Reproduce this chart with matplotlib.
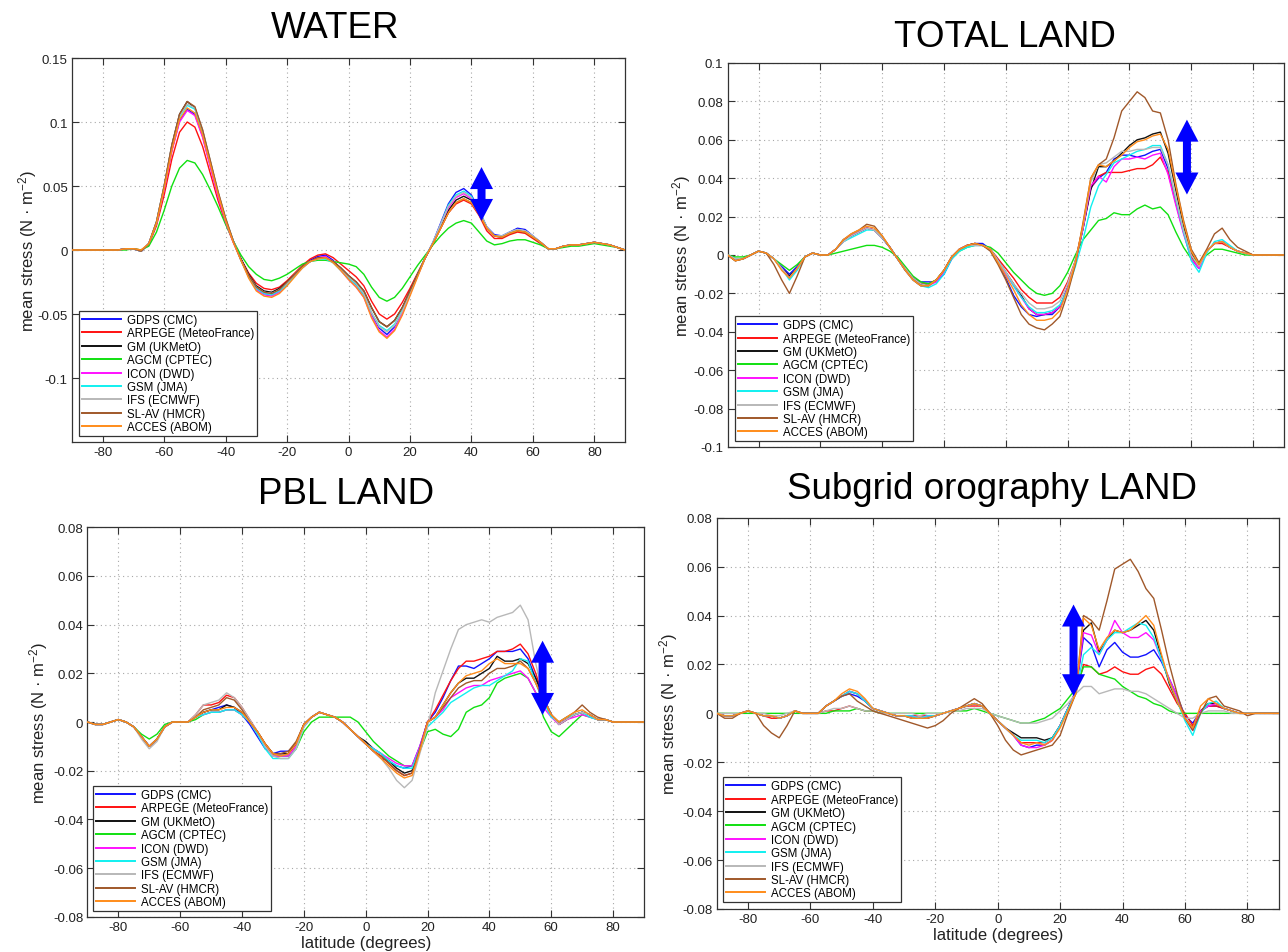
import numpy as np
import matplotlib
matplotlib.use("Agg")
import matplotlib.pyplot as plt
from matplotlib.patches import Polygon
from matplotlib.transforms import IdentityTransform
from matplotlib.ticker import FuncFormatter

plt.rcParams['font.family'] = ['Liberation Sans', 'DejaVu Sans']
plt.rcParams['axes.unicode_minus'] = False
plt.rcParams['mathtext.fontset'] = 'custom'
plt.rcParams['mathtext.rm'] = 'Liberation Sans'
plt.rcParams['mathtext.it'] = 'Liberation Sans:italic'

# ---------------- data ----------------
lat = np.arange(-90, 90.01, 2.5)   # 73 latitudes

models = ["GDPS (CMC)", "ARPEGE (MeteoFrance)", "GM (UKMetO)", "AGCM (CPTEC)",
          "ICON (DWD)", "GSM (JMA)", "IFS (ECMWF)", "SL-AV (HMCR)", "ACCES (ABOM)"]
colors = ["#1010ff", "#ff1010", "#111111", "#10e010", "#ff10ff",
          "#10f0f0", "#b8b8b8", "#a0582a", "#ff8c1a"]

# WATER
water_gdps = [0,0,0,0,0,0,0, 0.001,0.001,-0.001,0.005,0.021,0.048,0.078,0.101,0.110,0.106,0.089,0.066,0.043,0.023,0.007,
              -0.007,-0.020,-0.030,-0.034,-0.035,-0.032,-0.026,-0.019,-0.013,-0.008,-0.005,-0.004,
              -0.008,-0.015,-0.022,-0.027,-0.035,-0.050,-0.061,-0.066,-0.060,-0.048,-0.034,-0.020,-0.006,
              0.006,0.021,0.036,0.045,0.048,0.043,0.031,0.018,0.012,0.011,0.014,0.017,0.016,0.011,0.006,
              0.001,0.001,0.003,0.004,0.004,0.005,0.006,0.005,0.004,0.002,0.000]
water_arpege = [0,0,0,0,0,0,0, 0.001,0.001,0.000,0.004,0.019,0.043,0.071,0.092,0.100,0.096,0.081,0.060,0.039,0.021,0.006,
                -0.007,-0.018,-0.026,-0.030,-0.031,-0.029,-0.024,-0.018,-0.012,-0.007,-0.004,-0.003,
                -0.006,-0.011,-0.016,-0.021,-0.028,-0.040,-0.050,-0.054,-0.050,-0.041,-0.030,-0.018,-0.006,
                0.005,0.017,0.029,0.036,0.039,0.036,0.027,0.015,0.009,0.009,0.012,0.014,0.013,0.009,0.005,
                0.001,0.001,0.003,0.004,0.004,0.005,0.006,0.005,0.004,0.002,0.000]
water_gm = [0,0,0,0,0,0,0, 0.001,0.001,-0.001,0.005,0.022,0.050,0.082,0.106,0.116,0.111,0.093,0.069,0.045,0.024,0.007,
            -0.007,-0.019,-0.028,-0.032,-0.033,-0.030,-0.025,-0.019,-0.013,-0.009,-0.006,-0.006,
            -0.009,-0.014,-0.020,-0.025,-0.032,-0.045,-0.056,-0.060,-0.055,-0.045,-0.032,-0.019,-0.006,
            0.005,0.018,0.031,0.039,0.042,0.039,0.029,0.017,0.011,0.010,0.013,0.015,0.014,0.010,0.006,
            0.001,0.001,0.003,0.004,0.004,0.005,0.006,0.005,0.004,0.002,0.000]
water_agcm = [0,0,0,0,0,0,0, 0.000,0.001,0.000,0.003,0.014,0.031,0.050,0.064,0.070,0.068,0.059,0.047,0.034,0.020,0.007,
              -0.004,-0.013,-0.019,-0.023,-0.024,-0.022,-0.019,-0.015,-0.011,-0.009,-0.008,-0.008,
              -0.009,-0.010,-0.011,-0.013,-0.019,-0.029,-0.037,-0.040,-0.037,-0.030,-0.021,-0.012,-0.004,
              0.004,0.011,0.017,0.021,0.023,0.021,0.014,0.007,0.004,0.005,0.007,0.008,0.008,0.006,0.004,
              0.001,0.001,0.002,0.003,0.003,0.004,0.005,0.004,0.003,0.002,0.000]
water_icon = [0,0,0,0,0,0,0, 0.001,0.001,-0.001,0.005,0.021,0.047,0.077,0.100,0.109,0.105,0.088,0.065,0.042,0.022,0.006,
              -0.008,-0.021,-0.031,-0.035,-0.036,-0.033,-0.027,-0.020,-0.014,-0.009,-0.006,-0.005,
              -0.009,-0.016,-0.023,-0.029,-0.037,-0.052,-0.063,-0.068,-0.062,-0.050,-0.035,-0.020,-0.006,
              0.006,0.020,0.033,0.041,0.044,0.040,0.030,0.018,0.011,0.011,0.014,0.016,0.015,0.011,0.006,
              0.001,0.001,0.003,0.004,0.004,0.005,0.006,0.005,0.004,0.002,0.000]
water_gsm = [0,0,0,0,0,0,0, 0.001,0.001,-0.001,0.005,0.021,0.049,0.080,0.104,0.113,0.110,0.093,0.069,0.045,0.024,0.007,
             -0.008,-0.021,-0.030,-0.034,-0.035,-0.032,-0.027,-0.020,-0.014,-0.009,-0.007,-0.007,
             -0.010,-0.016,-0.022,-0.027,-0.035,-0.049,-0.059,-0.063,-0.058,-0.047,-0.033,-0.019,-0.006,
             0.006,0.020,0.035,0.043,0.046,0.042,0.031,0.018,0.011,0.011,0.014,0.016,0.015,0.011,0.006,
             0.001,0.001,0.003,0.004,0.004,0.005,0.006,0.005,0.004,0.002,0.000]
water_ifs = [0,0,0,0,0,0,0, 0.001,0.001,-0.001,0.005,0.022,0.050,0.081,0.105,0.114,0.111,0.094,0.070,0.046,0.025,0.007,
             -0.008,-0.020,-0.029,-0.033,-0.034,-0.031,-0.026,-0.019,-0.013,-0.009,-0.007,-0.006,
             -0.009,-0.015,-0.021,-0.026,-0.034,-0.049,-0.060,-0.064,-0.059,-0.048,-0.034,-0.020,-0.006,
             0.006,0.020,0.034,0.042,0.045,0.041,0.030,0.018,0.011,0.011,0.014,0.016,0.015,0.011,0.006,
             0.001,0.001,0.003,0.004,0.004,0.005,0.006,0.005,0.004,0.002,0.000]
water_slav = [0,0,0,0,0,0,0, 0.001,0.001,-0.001,0.005,0.022,0.050,0.082,0.106,0.116,0.112,0.094,0.070,0.046,0.025,0.007,
              -0.008,-0.020,-0.029,-0.033,-0.034,-0.031,-0.025,-0.019,-0.013,-0.009,-0.006,-0.006,
              -0.009,-0.014,-0.020,-0.025,-0.032,-0.045,-0.056,-0.060,-0.055,-0.045,-0.032,-0.019,-0.006,
              0.005,0.017,0.029,0.037,0.040,0.037,0.028,0.017,0.011,0.010,0.013,0.015,0.014,0.010,0.006,
              0.001,0.001,0.003,0.004,0.004,0.005,0.006,0.005,0.004,0.002,0.000]
water_acces = [0,0,0,0,0,0,0, 0.001,0.001,0.000,0.005,0.021,0.048,0.078,0.102,0.111,0.107,0.090,0.067,0.044,0.023,0.006,
               -0.008,-0.022,-0.032,-0.036,-0.037,-0.034,-0.028,-0.021,-0.014,-0.009,-0.007,-0.006,
               -0.010,-0.016,-0.023,-0.029,-0.037,-0.053,-0.064,-0.069,-0.063,-0.051,-0.036,-0.021,-0.006,
               0.005,0.017,0.029,0.037,0.040,0.037,0.028,0.017,0.011,0.010,0.013,0.015,0.014,0.010,0.006,
               0.001,0.001,0.003,0.004,0.004,0.005,0.006,0.005,0.004,0.002,0.000]

# TOTAL LAND
total_gdps = [0.000,-0.002,-0.002,0.000,0.002,0.001,-0.002,-0.006,-0.010,-0.006,
              -0.001,0.001,0.000,0.000,0.003,0.007,0.010,0.012,0.014,0.013,
              0.009,0.004,-0.002,-0.008,-0.012,-0.014,-0.014,-0.014,-0.010,-0.002,
              0.003,0.005,0.006,0.006,0.003,-0.004,-0.012,-0.021,-0.027,-0.031,
              -0.032,-0.031,-0.031,-0.027,-0.017,-0.003,0.014,0.035,0.040,0.043,
              0.050,0.052,0.052,0.051,0.052,0.054,0.055,0.045,0.028,0.012,
              -0.002,-0.007,0.002,0.006,0.007,0.004,0.002,0.001,0.000,0.000,
              0.000,0.000,0.000]
total_arpege = [0.000,-0.002,-0.002,0.000,0.002,0.001,-0.002,-0.007,-0.012,-0.007,
                -0.001,0.001,0.000,0.000,0.003,0.007,0.010,0.012,0.014,0.013,
                0.009,0.004,-0.002,-0.007,-0.012,-0.015,-0.015,-0.013,-0.008,-0.001,
                0.003,0.005,0.006,0.005,0.003,-0.002,-0.007,-0.012,-0.018,-0.022,
                -0.025,-0.025,-0.025,-0.022,-0.014,-0.003,0.015,0.035,0.041,0.043,
                0.043,0.043,0.044,0.045,0.045,0.047,0.051,0.043,0.027,0.012,
                -0.001,-0.006,0.002,0.006,0.006,0.004,0.002,0.001,0.000,0.000,
                0.000,0.000,0.000]
total_gm = [0.000,-0.003,-0.002,0.000,0.002,0.001,-0.002,-0.007,-0.011,-0.007,
            -0.001,0.001,0.000,0.000,0.003,0.008,0.010,0.012,0.014,0.013,
            0.009,0.004,-0.002,-0.007,-0.012,-0.015,-0.016,-0.013,-0.008,-0.001,
            0.003,0.005,0.006,0.005,0.003,-0.003,-0.009,-0.015,-0.021,-0.028,
            -0.031,-0.031,-0.030,-0.027,-0.017,-0.004,0.014,0.034,0.046,0.046,
            0.049,0.053,0.057,0.060,0.061,0.063,0.064,0.053,0.034,0.015,
            0.001,-0.005,0.002,0.006,0.007,0.004,0.002,0.001,0.000,0.000,
            0.000,0.000,0.000]
total_agcm = [0.000,-0.001,-0.001,0.000,0.002,0.001,-0.002,-0.005,-0.008,-0.005,
              -0.001,0.001,0.000,0.000,0.001,0.002,0.003,0.004,0.005,0.005,
              0.004,0.002,-0.001,-0.006,-0.011,-0.014,-0.015,-0.013,-0.008,-0.002,
              0.002,0.004,0.005,0.005,0.004,0.001,-0.004,-0.009,-0.013,-0.017,
              -0.020,-0.021,-0.020,-0.016,-0.009,0.000,0.008,0.013,0.018,0.019,
              0.022,0.021,0.021,0.024,0.026,0.024,0.025,0.021,0.012,0.004,
              -0.002,-0.004,0.000,0.003,0.003,0.002,0.001,0.000,0.000,0.000,
              0.000,0.000,0.000]
total_icon = [0.000,-0.002,-0.002,0.000,0.002,0.001,-0.002,-0.007,-0.012,-0.007,
              -0.001,0.001,0.000,0.000,0.003,0.007,0.010,0.012,0.014,0.013,
              0.009,0.004,-0.002,-0.008,-0.013,-0.016,-0.016,-0.014,-0.009,-0.002,
              0.003,0.005,0.005,0.005,0.003,-0.003,-0.010,-0.016,-0.022,-0.028,
              -0.031,-0.031,-0.030,-0.027,-0.017,-0.004,0.014,0.036,0.041,0.038,
              0.046,0.050,0.050,0.051,0.050,0.052,0.053,0.042,0.026,0.011,
              -0.002,-0.007,0.002,0.006,0.007,0.004,0.002,0.001,0.000,0.000,
              0.000,0.000,0.000]
total_gsm = [0.000,-0.002,-0.002,0.000,0.002,0.001,-0.002,-0.007,-0.013,-0.008,
             -0.001,0.001,0.000,0.000,0.003,0.007,0.009,0.011,0.013,0.013,
             0.009,0.004,-0.002,-0.008,-0.013,-0.016,-0.017,-0.015,-0.010,-0.002,
             0.002,0.004,0.005,0.005,0.003,-0.003,-0.009,-0.016,-0.022,-0.027,
             -0.030,-0.030,-0.029,-0.026,-0.018,-0.006,0.008,0.025,0.036,0.042,
             0.048,0.050,0.052,0.054,0.055,0.057,0.057,0.047,0.029,0.012,
             -0.003,-0.009,0.001,0.007,0.008,0.005,0.002,0.001,0.000,0.000,
             0.000,0.000,0.000]
total_ifs = [0.000,-0.002,-0.002,0.000,0.002,0.001,-0.002,-0.007,-0.012,-0.007,
             -0.001,0.001,0.000,0.000,0.003,0.007,0.010,0.012,0.014,0.013,
             0.009,0.004,-0.002,-0.007,-0.012,-0.015,-0.016,-0.013,-0.008,-0.001,
             0.003,0.005,0.005,0.005,0.003,-0.003,-0.009,-0.015,-0.020,-0.025,
             -0.028,-0.028,-0.027,-0.024,-0.015,-0.003,0.015,0.038,0.047,0.048,
             0.051,0.054,0.054,0.055,0.055,0.056,0.056,0.047,0.030,0.013,
             0.000,-0.006,0.002,0.006,0.007,0.004,0.002,0.001,0.000,0.000,
             0.000,0.000,0.000]
total_slav = [0.000,-0.003,-0.002,0.000,0.002,0.001,-0.005,-0.013,-0.020,-0.011,
              -0.001,0.001,0.000,0.000,0.003,0.008,0.011,0.013,0.016,0.015,
              0.010,0.004,-0.002,-0.008,-0.013,-0.016,-0.016,-0.013,-0.008,-0.001,
              0.003,0.005,0.006,0.005,0.002,-0.005,-0.013,-0.022,-0.031,-0.036,
              -0.038,-0.039,-0.036,-0.032,-0.020,-0.005,0.017,0.040,0.047,0.050,
              0.061,0.075,0.080,0.085,0.082,0.075,0.074,0.060,0.037,0.018,
              0.003,-0.004,0.003,0.011,0.014,0.008,0.004,0.002,0.000,0.000,
              0.000,0.000,0.000]
total_acces = [0.000,-0.003,-0.002,0.000,0.002,0.001,-0.002,-0.008,-0.012,-0.007,
               -0.001,0.001,0.000,0.000,0.003,0.008,0.011,0.013,0.015,0.014,
               0.010,0.004,-0.002,-0.008,-0.013,-0.016,-0.016,-0.013,-0.008,-0.001,
               0.003,0.005,0.006,0.005,0.003,-0.004,-0.011,-0.018,-0.026,-0.031,
               -0.034,-0.034,-0.033,-0.029,-0.018,-0.004,0.016,0.040,0.047,0.046,
               0.049,0.052,0.056,0.059,0.060,0.062,0.063,0.055,0.036,0.017,
               0.002,-0.005,0.002,0.006,0.007,0.004,0.002,0.001,0.000,0.000,
               0.000,0.000,0.000]

# PBL LAND
pbl_gdps = [0.000,-0.001,-0.001,0.000,0.001,0.000,-0.002,-0.006,-0.010,-0.007,
            -0.002,0.000,0.000,0.000,0.002,0.004,0.005,0.006,0.007,0.006,
            0.003,-0.001,-0.006,-0.011,-0.013,-0.012,-0.012,-0.009,-0.001,0.002,
            0.004,0.003,0.002,0.000,-0.003,-0.006,-0.009,-0.012,-0.015,-0.016,
            -0.018,-0.019,-0.018,-0.010,0.000,0.004,0.010,0.017,0.023,0.023,
            0.022,0.024,0.026,0.029,0.029,0.029,0.030,0.026,0.018,0.010,
            0.003,-0.001,0.001,0.003,0.004,0.003,0.001,0.001,0.000,0.000,
            0.000,0.000,0.000]
pbl_arpege = [0.000,-0.001,-0.001,0.000,0.001,0.000,-0.002,-0.006,-0.010,-0.007,
              -0.002,0.000,0.000,0.000,0.003,0.007,0.007,0.008,0.011,0.010,
              0.006,0.001,-0.004,-0.009,-0.013,-0.013,-0.013,-0.009,-0.001,0.002,
              0.004,0.003,0.002,0.000,-0.003,-0.006,-0.009,-0.012,-0.014,-0.017,
              -0.020,-0.022,-0.021,-0.011,0.000,0.005,0.011,0.017,0.022,0.025,
              0.025,0.026,0.027,0.029,0.029,0.030,0.032,0.028,0.020,0.010,
              0.003,-0.001,0.001,0.003,0.004,0.003,0.001,0.001,0.000,0.000,
              0.000,0.000,0.000]
pbl_gm = [0.000,-0.001,-0.001,0.000,0.001,0.000,-0.002,-0.006,-0.010,-0.007,
          -0.002,0.000,0.000,0.000,0.002,0.004,0.005,0.005,0.007,0.006,
          0.004,0.000,-0.004,-0.009,-0.013,-0.013,-0.013,-0.009,-0.001,0.002,
          0.004,0.003,0.002,0.000,-0.003,-0.006,-0.008,-0.011,-0.013,-0.016,
          -0.019,-0.021,-0.020,-0.011,0.000,0.002,0.007,0.012,0.016,0.018,
          0.018,0.020,0.022,0.027,0.025,0.025,0.026,0.024,0.018,0.010,
          0.003,-0.001,0.001,0.003,0.004,0.003,0.001,0.001,0.000,0.000,
          0.000,0.000,0.000]
pbl_agcm = [0.000,-0.001,-0.001,0.000,0.001,0.000,-0.002,-0.005,-0.007,-0.005,
            -0.001,0.000,0.000,0.000,0.001,0.003,0.004,0.004,0.005,0.005,
            0.003,0.000,-0.005,-0.010,-0.014,-0.014,-0.014,-0.011,-0.004,0.000,
            0.002,0.002,0.002,0.002,0.002,0.000,-0.004,-0.008,-0.011,-0.014,
            -0.016,-0.018,-0.018,-0.012,-0.004,-0.003,-0.005,-0.006,-0.003,0.004,
            0.006,0.007,0.010,0.016,0.018,0.019,0.020,0.018,0.012,0.002,
            -0.004,-0.006,-0.003,0.000,0.003,0.002,0.001,0.001,0.000,0.000,
            0.000,0.000,0.000]
pbl_icon = [0.000,-0.001,-0.001,0.000,0.001,0.000,-0.002,-0.006,-0.010,-0.007,
            -0.002,0.000,0.000,0.000,0.002,0.003,0.004,0.004,0.005,0.005,
            0.003,0.000,-0.005,-0.010,-0.014,-0.014,-0.014,-0.010,-0.002,0.002,
            0.004,0.003,0.002,0.000,-0.003,-0.006,-0.009,-0.011,-0.013,-0.015,
            -0.017,-0.018,-0.018,-0.010,0.000,0.002,0.005,0.010,0.012,0.014,
            0.015,0.015,0.017,0.018,0.019,0.020,0.021,0.018,0.012,0.006,
            0.002,-0.001,0.001,0.002,0.003,0.002,0.001,0.001,0.000,0.000,
            0.000,0.000,0.000]
pbl_gsm = [0.000,-0.001,-0.001,0.000,0.001,0.000,-0.002,-0.006,-0.010,-0.007,
           -0.002,0.000,0.000,0.000,0.002,0.003,0.004,0.004,0.005,0.005,
           0.003,0.000,-0.005,-0.011,-0.015,-0.015,-0.015,-0.011,-0.002,0.002,
           0.004,0.003,0.002,0.000,-0.003,-0.006,-0.009,-0.011,-0.013,-0.016,
           -0.018,-0.019,-0.019,-0.011,-0.002,0.001,0.004,0.008,0.010,0.012,
           0.014,0.015,0.015,0.017,0.019,0.021,0.026,0.025,0.016,0.008,
           0.002,0.000,0.002,0.003,0.004,0.002,0.001,0.001,0.000,0.000,
           0.000,0.000,0.000]
pbl_ifs = [0.000,-0.001,-0.001,0.000,0.001,0.000,-0.002,-0.007,-0.011,-0.008,
           -0.002,0.000,0.000,0.000,0.003,0.007,0.008,0.009,0.012,0.010,
           0.006,0.001,-0.004,-0.010,-0.014,-0.015,-0.015,-0.011,-0.002,0.002,
           0.004,0.003,0.002,0.000,-0.003,-0.006,-0.009,-0.012,-0.015,-0.019,
           -0.024,-0.027,-0.024,-0.013,-0.002,0.012,0.021,0.030,0.038,0.040,
           0.041,0.042,0.041,0.043,0.044,0.045,0.048,0.042,0.024,0.010,
           0.003,-0.001,0.001,0.003,0.004,0.003,0.001,0.001,0.000,0.000,
           0.000,0.000,0.000]
pbl_slav = [0.000,-0.001,-0.001,0.000,0.001,0.000,-0.002,-0.006,-0.010,-0.007,
            -0.002,0.000,0.000,0.000,0.002,0.005,0.006,0.007,0.010,0.009,
            0.005,0.000,-0.004,-0.009,-0.013,-0.013,-0.012,-0.008,-0.001,0.002,
            0.004,0.003,0.002,0.000,-0.003,-0.006,-0.009,-0.012,-0.014,-0.017,
            -0.020,-0.022,-0.021,-0.011,0.000,0.002,0.006,0.010,0.014,0.016,
            0.017,0.017,0.020,0.022,0.022,0.023,0.025,0.022,0.016,0.009,
            0.003,0.000,0.002,0.004,0.007,0.004,0.002,0.001,0.000,0.000,
            0.000,0.000,0.000]
pbl_acces = [0.000,-0.001,-0.001,0.000,0.001,0.000,-0.002,-0.006,-0.010,-0.007,
             -0.002,0.000,0.000,0.000,0.002,0.004,0.005,0.005,0.006,0.006,
             0.004,0.000,-0.004,-0.009,-0.013,-0.014,-0.013,-0.009,-0.001,0.002,
             0.004,0.003,0.002,0.000,-0.003,-0.006,-0.009,-0.012,-0.015,-0.018,
             -0.021,-0.023,-0.022,-0.012,0.000,0.002,0.007,0.012,0.016,0.019,
             0.020,0.021,0.024,0.026,0.024,0.024,0.024,0.022,0.016,0.009,
             0.003,0.000,0.002,0.004,0.005,0.003,0.001,0.001,0.000,0.000,
             0.000,0.000,0.000]

# SUBGRID OROGRAPHY LAND
sso_gdps = [0.000,-0.001,-0.001,0.000,0.001,0.000,-0.001,-0.001,-0.002,-0.001,
            0.001,0.000,0.000,0.000,0.003,0.005,0.007,0.008,0.007,0.005,
            0.002,0.001,0.000,-0.001,-0.001,-0.001,-0.002,-0.001,-0.001,0.000,
            0.001,0.002,0.003,0.004,0.003,0.000,-0.003,-0.006,-0.009,-0.013,
            -0.014,-0.013,-0.013,-0.011,-0.005,0.002,0.009,0.031,0.028,0.019,
            0.026,0.029,0.025,0.023,0.023,0.024,0.026,0.021,0.014,0.007,
            -0.001,-0.004,0.001,0.003,0.003,0.002,0.001,0.000,0.000,0.000,
            0.000,0.000,0.000]
sso_arpege = [0.000,-0.001,-0.001,0.000,0.001,0.000,-0.001,-0.002,-0.002,-0.001,
              0.001,0.000,0.000,0.000,0.001,0.001,0.002,0.003,0.002,0.001,
              0.001,0.000,0.000,-0.001,-0.001,-0.001,-0.001,-0.001,-0.001,0.000,
              0.001,0.002,0.003,0.003,0.003,0.000,-0.003,-0.006,-0.009,-0.012,
              -0.012,-0.012,-0.012,-0.010,-0.005,0.002,0.008,0.020,0.019,0.016,
              0.017,0.019,0.017,0.016,0.016,0.018,0.019,0.016,0.010,0.004,
              0.000,-0.005,0.001,0.003,0.003,0.002,0.001,0.000,0.000,0.000,
              0.000,0.000,0.000]
sso_gm = [0.000,-0.001,-0.001,0.000,0.001,0.000,-0.001,-0.001,-0.002,-0.001,
          0.001,0.000,0.000,0.000,0.003,0.005,0.007,0.009,0.008,0.005,
          0.002,0.001,0.000,-0.001,-0.001,-0.002,-0.002,-0.002,-0.001,0.000,
          0.001,0.002,0.003,0.004,0.003,0.000,-0.003,-0.006,-0.008,-0.010,
          -0.010,-0.010,-0.011,-0.010,-0.005,0.002,0.009,0.034,0.037,0.025,
          0.030,0.034,0.033,0.034,0.036,0.038,0.034,0.023,0.012,0.005,
          -0.002,-0.006,0.001,0.004,0.004,0.002,0.001,0.000,0.000,0.000,
          0.000,0.000,0.000]
sso_agcm = [0.000,0.000,0.000,0.000,0.000,0.000,0.000,0.000,0.000,0.000,
            0.000,0.000,0.000,0.000,0.000,0.001,0.001,0.001,0.002,0.001,
            0.001,0.000,0.000,0.000,0.000,0.000,0.000,0.000,0.000,0.000,
            0.001,0.001,0.001,0.002,0.001,0.000,-0.001,-0.002,-0.003,-0.004,
            -0.004,-0.003,-0.002,0.000,0.002,0.006,0.010,0.019,0.019,0.016,
            0.015,0.014,0.011,0.009,0.007,0.006,0.004,0.003,0.001,0.000,
            0.000,0.000,0.000,0.000,0.000,0.000,0.000,0.000,0.000,0.000,
            0.000,0.000,0.000]
sso_icon = [0.000,-0.001,-0.001,0.000,0.001,0.000,-0.001,-0.001,-0.002,-0.001,
            0.001,0.000,0.000,0.000,0.003,0.005,0.007,0.009,0.008,0.005,
            0.002,0.001,0.000,-0.001,-0.001,-0.001,-0.002,-0.001,-0.001,0.000,
            0.001,0.002,0.003,0.004,0.003,0.000,-0.003,-0.006,-0.009,-0.013,
            -0.014,-0.014,-0.013,-0.011,-0.005,0.002,0.009,0.033,0.032,0.024,
            0.030,0.038,0.033,0.031,0.031,0.033,0.030,0.022,0.014,0.007,
            -0.002,-0.007,0.001,0.003,0.004,0.002,0.001,0.000,0.000,0.000,
            0.000,0.000,0.000]
sso_gsm = [0.000,-0.001,-0.001,0.000,0.001,0.000,-0.001,-0.001,-0.002,-0.001,
           0.001,0.000,0.000,0.000,0.003,0.005,0.007,0.009,0.008,0.005,
           0.002,0.001,0.000,-0.001,-0.001,-0.001,-0.002,-0.001,-0.001,0.000,
           0.001,0.002,0.003,0.004,0.003,0.000,-0.003,-0.006,-0.009,-0.011,
           -0.011,-0.011,-0.012,-0.010,-0.005,0.002,0.008,0.024,0.027,0.024,
           0.030,0.033,0.033,0.035,0.037,0.036,0.031,0.022,0.013,0.005,
           -0.003,-0.009,0.000,0.004,0.005,0.002,0.001,0.000,0.000,0.000,
           0.000,0.000,0.000]
sso_ifs = [0.000,0.000,0.000,0.000,0.001,0.000,0.000,-0.001,-0.001,0.000,
           0.001,0.000,0.000,0.000,0.001,0.002,0.002,0.003,0.002,0.001,
           0.001,0.000,0.000,0.000,0.000,0.000,-0.001,0.000,0.000,0.000,
           0.001,0.001,0.002,0.002,0.002,0.000,-0.001,-0.002,-0.003,-0.004,
           -0.004,-0.004,-0.003,-0.002,0.001,0.004,0.008,0.011,0.011,0.008,
           0.009,0.010,0.010,0.009,0.009,0.008,0.006,0.004,0.002,0.000,
           -0.002,-0.002,0.000,0.001,0.001,0.001,0.000,0.000,0.000,0.000,
           0.000,0.000,0.000]
sso_slav = [0.000,-0.002,-0.002,0.000,0.001,0.000,-0.005,-0.008,-0.010,-0.005,
            0.001,0.000,0.000,0.000,0.003,0.005,0.007,0.008,0.005,0.003,
            0.001,0.000,-0.001,-0.002,-0.003,-0.004,-0.005,-0.006,-0.005,-0.003,
            0.000,0.002,0.004,0.006,0.004,0.000,-0.005,-0.011,-0.015,-0.017,
            -0.016,-0.015,-0.014,-0.013,-0.009,0.000,0.008,0.040,0.038,0.034,
            0.046,0.059,0.061,0.063,0.058,0.051,0.047,0.034,0.020,0.008,
            -0.002,-0.007,0.000,0.006,0.007,0.003,0.002,0.001,-0.001,0.000,
            0.000,0.000,0.000]
sso_acces = [0.000,-0.001,-0.001,0.000,0.001,0.000,-0.001,-0.001,-0.002,-0.001,
             0.001,0.000,0.000,0.000,0.003,0.005,0.008,0.010,0.009,0.006,
             0.002,0.001,0.000,-0.001,-0.001,-0.002,-0.002,-0.002,-0.001,0.000,
             0.001,0.002,0.003,0.004,0.003,0.000,-0.003,-0.006,-0.009,-0.012,
             -0.013,-0.012,-0.013,-0.011,-0.006,0.001,0.008,0.039,0.036,0.026,
             0.031,0.034,0.033,0.034,0.037,0.040,0.036,0.024,0.013,0.005,
             -0.002,-0.006,0.003,0.006,0.004,0.002,0.001,0.000,0.000,0.000,
             0.000,0.000,0.000]

water = [water_gdps, water_arpege, water_gm, water_agcm, water_icon, water_gsm, water_ifs, water_slav, water_acces]
total = [total_gdps, total_arpege, total_gm, total_agcm, total_icon, total_gsm, total_ifs, total_slav, total_acces]
pbl = [pbl_gdps, pbl_arpege, pbl_gm, pbl_agcm, pbl_icon, pbl_gsm, pbl_ifs, pbl_slav, pbl_acces]
sso = [sso_gdps, sso_arpege, sso_gm, sso_agcm, sso_icon, sso_gsm, sso_ifs, sso_slav, sso_acces]

for name, grp in (("water", water), ("total", total), ("pbl", pbl), ("sso", sso)):
    for m, s in zip(models, grp):
        if len(s) != len(lat):
            raise ValueError(f"{name} {m}: {len(s)} values")

# ---------------- layout ----------------
W, H = 1288, 953
fig = plt.figure(figsize=(W / 100, H / 100), dpi=100)

def px_axes(x0, x1, ytop, ybot):
    return [x0 / W, 1 - ybot / H, (x1 - x0) / W, (ybot - ytop) / H]

panels = [
    dict(series=water, rect=px_axes(72, 625, 59, 443), ylim=(-0.15, 0.15),
         yticks=[-0.1, -0.05, 0, 0.05, 0.1, 0.15], title="WATER", tpos=(335, 38),
         xlabels=True, xlabel=False, ylab_x=-0.059, leg=(0.0127, 0.0156),
         arrow=(43.3, 0.0648, 0.0227)),
    dict(series=total, rect=px_axes(727.6, 1284, 64, 448), ylim=(-0.1, 0.1),
         yticks=[-0.1, -0.08, -0.06, -0.04, -0.02, 0, 0.02, 0.04, 0.06, 0.08, 0.1],
         title="TOTAL LAND", tpos=(1005, 47),
         xlabels=False, xlabel=False, ylab_x=-0.063, leg=(0.0128, 0.0149),
         arrow=(58.6, 0.0705, 0.0315)),
    dict(series=pbl, rect=px_axes(87.4, 644, 528.3, 917.7), ylim=(-0.08, 0.08),
         yticks=[-0.08, -0.06, -0.04, -0.02, 0, 0.02, 0.04, 0.06, 0.08],
         title="PBL LAND", tpos=(346, 504),
         xlabels=True, xlabel=True, ylab_x=-0.067, leg=(0.010, 0.0146),
         arrow=(57.2, 0.0334, 0.0029), xlab_y=-0.046),
    dict(series=sso, rect=px_axes(716.8, 1278.6, 518.7, 910), ylim=(-0.08, 0.08),
         yticks=[-0.08, -0.06, -0.04, -0.02, 0, 0.02, 0.04, 0.06, 0.08],
         title="Subgrid orography LAND", tpos=(992, 499),
         xlabels=True, xlabel=True, ylab_x=-0.066, leg=(0.0105, 0.0171),
         arrow=(24.3, 0.0445, 0.0070), xlab_y=-0.045),
]

fmt = FuncFormatter(lambda v, p: ("%g" % round(v, 4)))
axes_list = []
for P in panels:
    ax = fig.add_axes(P["rect"])
    axes_list.append(ax)
    for s, m, c in zip(P["series"], models, colors):
        ax.plot(lat, s, color=c, lw=1.0, label=m, zorder=3)
    ax.set_xlim(-90, 90)
    ax.set_ylim(*P["ylim"])
    ax.set_xticks(np.arange(-80, 81, 20))
    ax.set_yticks(P["yticks"])
    ax.yaxis.set_major_formatter(fmt)
    ax.grid(True, color="#a8a8a8", linestyle=(0, (1, 3)), linewidth=0.8, zorder=0)
    ax.tick_params(direction="in", top=True, right=True, length=5, width=0.8,
                   color="#333333", labelsize=9.5, labelcolor="#222222", pad=3)
    if not P["xlabels"]:
        ax.tick_params(labelbottom=False)
    for sp in ax.spines.values():
        sp.set_color("#333333")
        sp.set_linewidth(0.9)
    ax.set_ylabel("mean stress (N · m$^{-2}$)", fontsize=12, color="#222222")
    ax.yaxis.set_label_coords(P["ylab_x"], 0.5)
    if P["xlabel"]:
        ax.set_xlabel("latitude (degrees)", fontsize=12, color="#222222")
        ax.xaxis.set_label_coords(0.5, P["xlab_y"])
    leg = ax.legend(loc="lower left", bbox_to_anchor=P["leg"], borderaxespad=0,
                    fontsize=8.3, handlelength=3.4, handletextpad=0.5,
                    labelspacing=0.12, borderpad=0.25, fancybox=False,
                    framealpha=1, edgecolor="#333333")
    leg.get_frame().set_linewidth(0.9)
    for lh in leg.get_lines():
        lh.set_linewidth(1.4)
    fig.text(P["tpos"][0] / W, 1 - P["tpos"][1] / H, P["title"], fontsize=26.5,
             ha="center", va="baseline", color="black")

# blue double-headed arrows (pixel geometry)
HW, HL, SW = 11.5, 22, 4.0
for ax, P in zip(axes_list, panels):
    la, vt, vb = P["arrow"]
    cx, yt = ax.transData.transform((la, vt))
    _, yb = ax.transData.transform((la, vb))
    verts = [(cx, yt), (cx + HW, yt - HL), (cx + SW, yt - HL), (cx + SW, yb + HL),
             (cx + HW, yb + HL), (cx, yb), (cx - HW, yb + HL), (cx - SW, yb + HL),
             (cx - SW, yt - HL), (cx - HW, yt - HL)]
    poly = Polygon(verts, closed=True, facecolor="#0000ff", edgecolor="none",
                   transform=IdentityTransform(), zorder=10)
    fig.add_artist(poly)

fig.savefig("out.png", dpi=100)
